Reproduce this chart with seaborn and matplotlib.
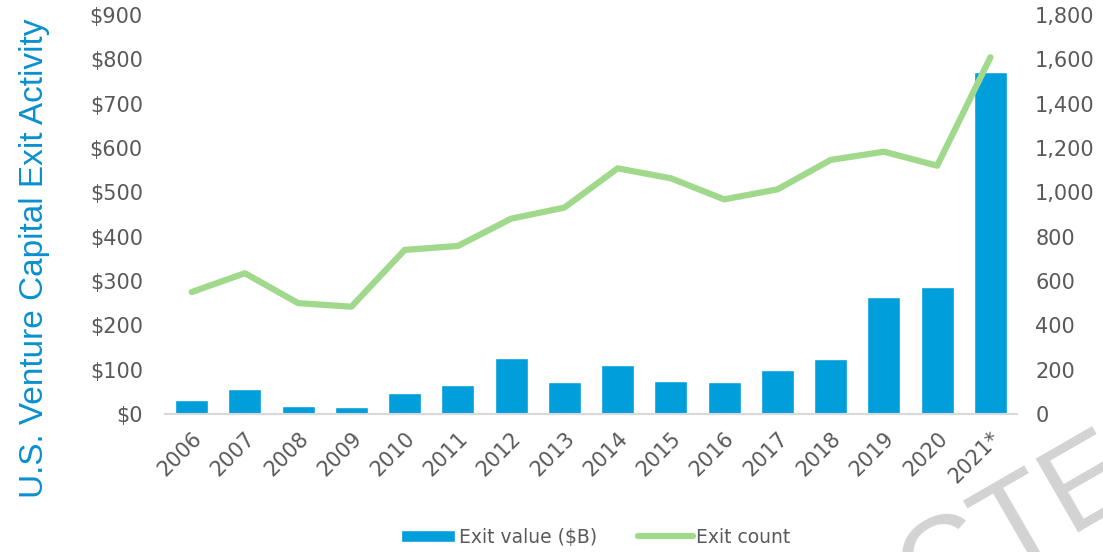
import numpy as np
import pandas as pd
import matplotlib
matplotlib.use("Agg")
import matplotlib.pyplot as plt
import seaborn as sns
from matplotlib.patches import Patch
from matplotlib.lines import Line2D
from matplotlib.ticker import FuncFormatter

# data
years = ["2006", "2007", "2008", "2009", "2010", "2011", "2012", "2013",
         "2014", "2015", "2016", "2017", "2018", "2019", "2020", "2021*"]
exit_value = [32, 56, 19, 15, 47, 66, 127, 72, 111, 75, 73, 99, 123, 263, 287, 772]
exit_count = [550, 635, 500, 484, 740, 758, 881, 931, 1108, 1063, 968, 1013, 1146, 1183, 1120, 1609]

bar_color = "#009FDB"
line_color = "#A0D98C"
text_color = "#595959"

df = pd.DataFrame({"year": years, "value": exit_value, "count": exit_count})
df["pos"] = np.arange(len(df))

sns.set_style("white")
plt.rcParams["font.family"] = ["DejaVu Sans"]

fig = plt.figure(figsize=(11.03, 5.52), dpi=100)
ax = fig.add_axes([0.1496, 0.25, 0.7725, 0.723])

sns.barplot(data=df, x="year", y="value", color=bar_color, width=0.62,
            saturation=1, ax=ax)

ax2 = ax.twinx()
sns.lineplot(data=df, x="pos", y="count", color=line_color, linewidth=4.5,
             ax=ax2, solid_capstyle="round")

ax.set_xlim(-0.5, len(years) - 0.5)
ax.set_ylim(0, 900)
ax2.set_ylim(0, 1800)
ax.set_yticks(np.arange(0, 901, 100))
ax2.set_yticks(np.arange(0, 1801, 200))
ax.yaxis.set_major_formatter(FuncFormatter(lambda v, p: f"${v:,.0f}"))
ax2.yaxis.set_major_formatter(FuncFormatter(lambda v, p: f"{v:,.0f}"))

for a in (ax, ax2):
    for s in a.spines.values():
        s.set_visible(False)
    a.tick_params(length=0, labelsize=15, labelcolor=text_color)
    a.set_xlabel("")
ax2.set_ylabel("")
ax.spines["bottom"].set_visible(True)
ax.spines["bottom"].set_color("#D9D9D9")
ax.spines["bottom"].set_linewidth(1.5)

ax.tick_params(axis="y", pad=16)
ax2.tick_params(axis="y", pad=13)
plt.setp(ax.get_xticklabels(), rotation=45, ha="right", rotation_mode="anchor")
ax.tick_params(axis="x", pad=10)

ax.set_ylabel("U.S. Venture Capital Exit Activity", fontsize=24,
              color="#0A90CF", family="Liberation Sans")
ax.yaxis.set_label_coords(-0.135, 0.39)

handles = [Patch(facecolor=bar_color, label="Exit value ($B)"),
           Line2D([0], [0], color=line_color, linewidth=4.5,
                  solid_capstyle="round", label="Exit count")]
fig.legend(handles=handles, loc="center", bbox_to_anchor=(0.54, 0.027),
           ncol=2, frameon=False, fontsize=13.5, labelcolor=text_color,
           handlelength=2.9, handleheight=0.6, handletextpad=0.2,
           columnspacing=2.2)

# partial watermark in the lower right corner
fig.text(0.922, 0.045, "CTE", rotation=30, rotation_mode="anchor",
         ha="center", va="center", fontsize=90, color="#D3D3D3",
         family="Liberation Sans", zorder=0)

fig.savefig("out.png", dpi=100)
